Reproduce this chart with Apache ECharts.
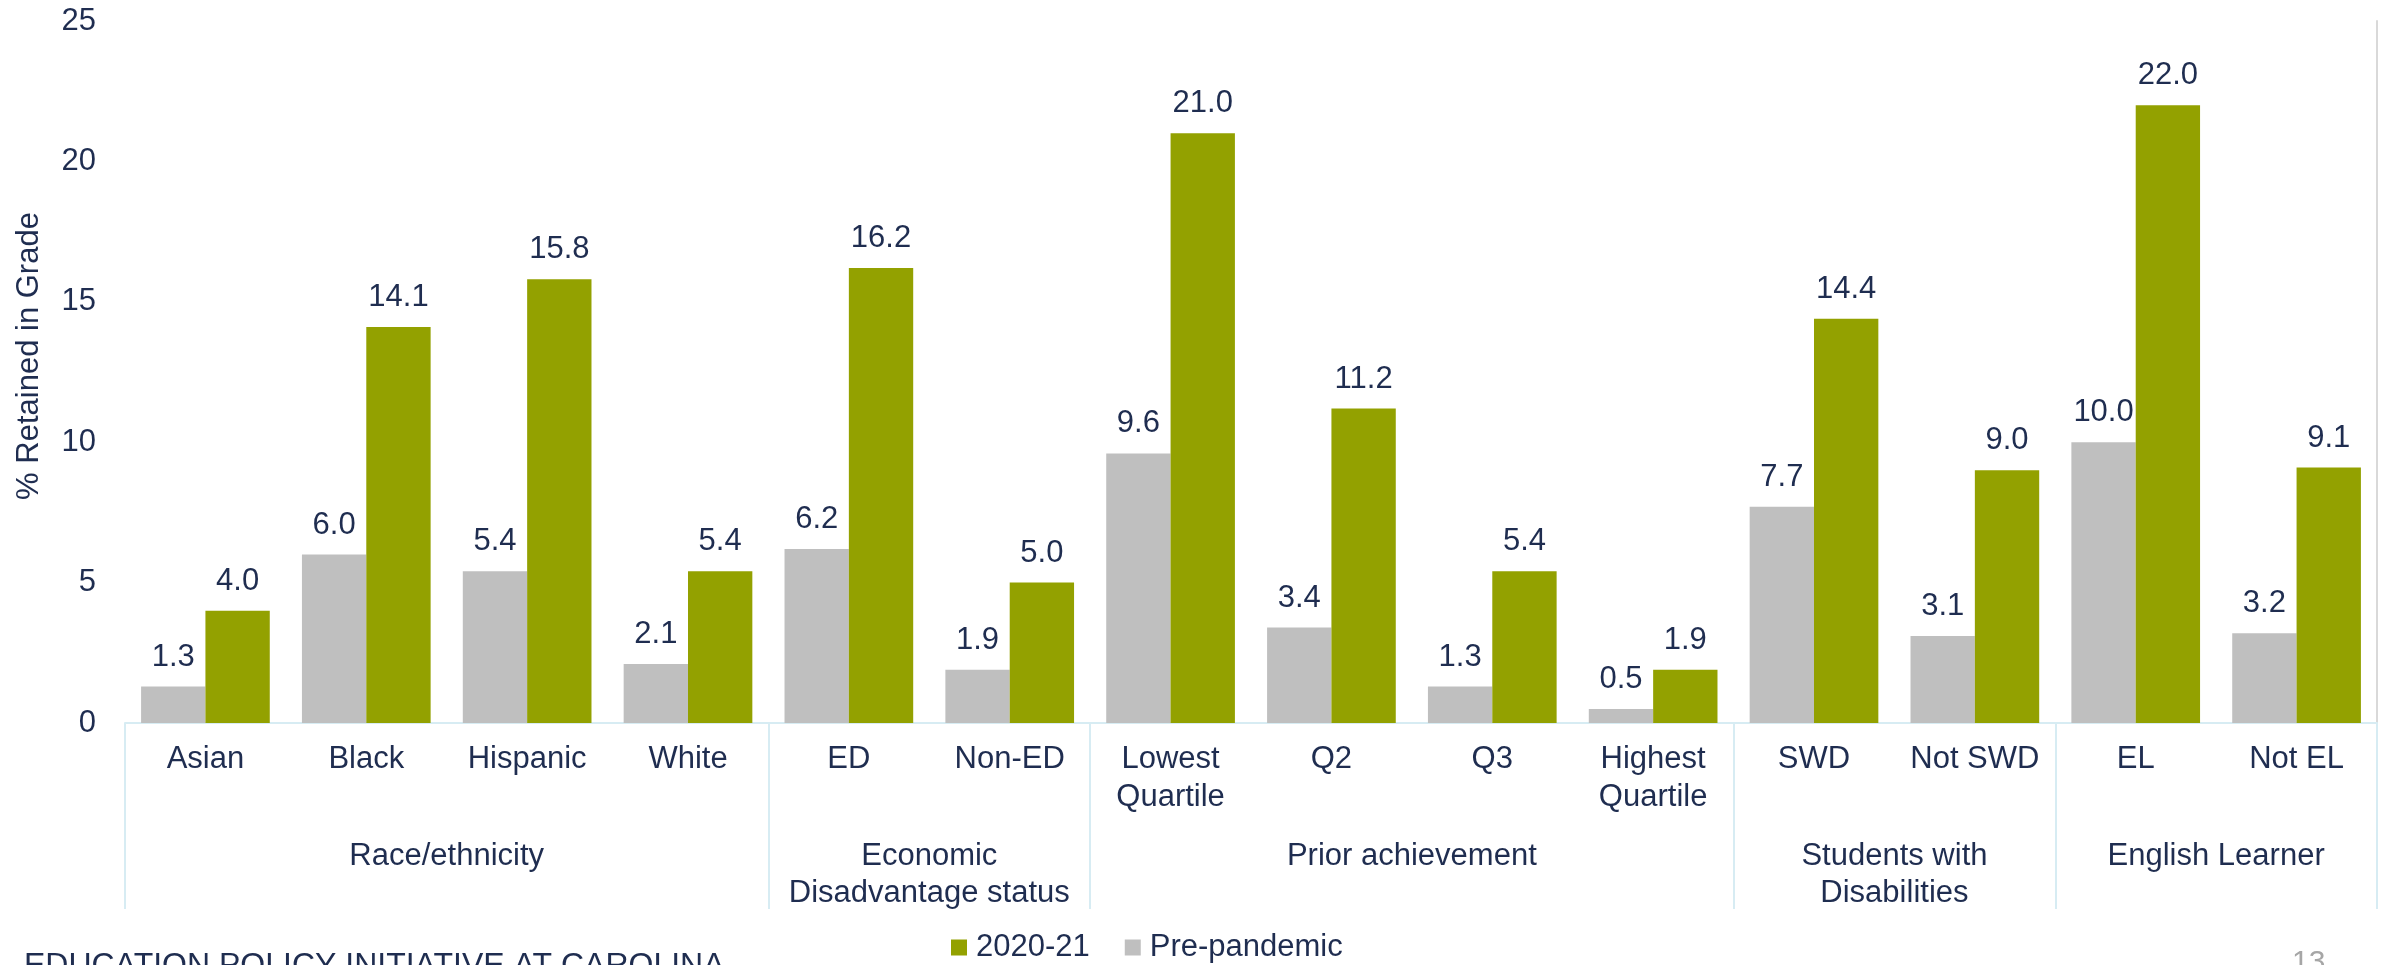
<!DOCTYPE html>
<html>
	<head>
		<meta charset="utf-8" />
		<title>% Retained in Grade</title>
		<script src="https://cdn.jsdelivr.net/npm/echarts@6/dist/echarts.min.js"></script>
		<style>
			html, body { margin: 0; padding: 0; background: #fff; }
			#main { width: 2387px; height: 965px; }
		</style>
	</head>
	<body>
		<div id="main"></div>
		<script>
			// 数据
			var categories = ['Asian', 'Black', 'Hispanic', 'White', 'ED', 'Non-ED', 'Lowest\nQuartile', 'Q2', 'Q3',
				'Highest\nQuartile', 'SWD', 'Not SWD', 'EL', 'Not EL'];
			var prePandemic = [1.3, 6.0, 5.4, 2.1, 6.2, 1.9, 9.6, 3.4, 1.3, 0.5, 7.7, 3.1, 10.0, 3.2];
			var y2020 = [4.0, 14.1, 15.8, 5.4, 16.2, 5.0, 21.0, 11.2, 5.4, 1.9, 14.4, 9.0, 22.0, 9.1];
			var groupNames = ['Race/ethnicity', 'Economic\nDisadvantage status', 'Prior achievement', 'Students with\nDisabilities', 'English Learner'];
			var groupSizes = [4, 2, 4, 2, 2];
			var yTicks = [0, 5, 10, 15, 20, 25];

			var navy = '#1F2D50';
			var green = '#93A100';
			var grey = '#BFBFBF';
			var lineBlue = '#D7ECF3';
			var font = '"Liberation Sans", Arial, sans-serif';

			// 分组轴: 半个类目一个刻度
			var halfSlots = [];
			var boundaries = {};
			var centers = {};
			for (var k = 0; k <= categories.length * 2; k++) halfSlots.push('');
			var pos = 0;
			boundaries[0] = true;
			for (var g = 0; g < groupNames.length; g++) {
				centers[pos + groupSizes[g]] = true;
				halfSlots[pos + groupSizes[g]] = groupNames[g];
				pos += groupSizes[g] * 2;
				boundaries[pos] = true;
			}

			var myChart = echarts.init(document.getElementById('main'));
			myChart.setOption({
				backgroundColor: '#fff',
				animation: false,
				textStyle: { fontFamily: font },
				grid: { left: 125, right: 10, top: 21, bottom: 242 },
				legend: {
					data: ['2020-21', 'Pre-pandemic'],
					left: 951,
					top: 932,
					padding: 0,
					icon: 'rect',
					itemWidth: 16,
					itemHeight: 16,
					itemGap: 35,
					textStyle: { fontSize: 31, color: navy, fontFamily: font, padding: [0, 0, 0, 4] }
				},
				xAxis: [{
					type: 'category',
					position: 'bottom',
					data: categories,
					axisLine: { show: true, lineStyle: { color: lineBlue, width: 2 } },
					axisTick: { show: false },
					axisLabel: {
						interval: 0,
						color: navy,
						fontSize: 31,
						lineHeight: 38,
						margin: 17,
						fontFamily: font
					}
				}, {
					type: 'category',
					position: 'bottom',
					boundaryGap: false,
					data: halfSlots,
					axisLine: { show: false },
					axisTick: {
						show: true,
						length: 186,
						interval: function(index) { return !!boundaries[index]; },
						lineStyle: { color: lineBlue, width: 2 }
					},
					axisLabel: {
						interval: function(index) { return !!centers[index]; },
						color: navy,
						fontSize: 31,
						lineHeight: 37,
						margin: 115,
						fontFamily: font
					}
				}],
				yAxis: [{
					type: 'value',
					min: yTicks[0],
					max: yTicks[yTicks.length - 1],
					interval: 5,
					axisLine: { show: false },
					axisTick: { show: false },
					splitLine: { show: false },
					axisLabel: { color: navy, fontSize: 31, margin: 29, fontFamily: font }
				}, {
					type: 'value',
					position: 'right',
					min: yTicks[0],
					max: yTicks[yTicks.length - 1],
					interval: 5,
					axisLine: { show: true, lineStyle: { color: '#D9D9D9', width: 2 } },
					axisTick: { show: false },
					axisLabel: { show: false },
					splitLine: { show: false }
				}],
				series: [{
					name: 'Pre-pandemic',
					type: 'bar',
					data: prePandemic,
					barGap: '0%',
					barCategoryGap: '20%',
					itemStyle: { color: grey },
					label: {
						show: true,
						position: 'top',
						distance: 14,
						color: navy,
						fontSize: 31,
						fontFamily: font,
						formatter: function(p) { return p.value.toFixed(1); }
					}
				}, {
					name: '2020-21',
					type: 'bar',
					data: y2020,
					barGap: '0%',
					barCategoryGap: '20%',
					itemStyle: { color: green },
					label: {
						show: true,
						position: 'top',
						distance: 14,
						color: navy,
						fontSize: 31,
						fontFamily: font,
						formatter: function(p) { return p.value.toFixed(1); }
					}
				}],
				graphic: [{
					// 纵轴标题
					type: 'text',
					x: 29,
					y: 356,
					rotation: Math.PI / 2,
					style: {
						text: '% Retained in Grade',
						font: '31px ' + font,
						fill: navy,
						align: 'center',
						verticalAlign: 'middle'
					}
				}, {
					type: 'text',
					x: 24,
					y: 950,
					style: {
						text: 'EDUCATION POLICY INITIATIVE AT CAROLINA',
						font: '32px ' + font,
						fill: navy,
						align: 'left',
						verticalAlign: 'top'
					}
				}, {
					type: 'text',
					x: 2292,
					y: 948,
					style: {
						text: '13',
						font: '30px ' + font,
						fill: '#A6A6A6',
						align: 'left',
						verticalAlign: 'top'
					}
				}]
			});

			window.onresize = function() {
				myChart.resize();
			};
		</script>
	</body>
</html>
